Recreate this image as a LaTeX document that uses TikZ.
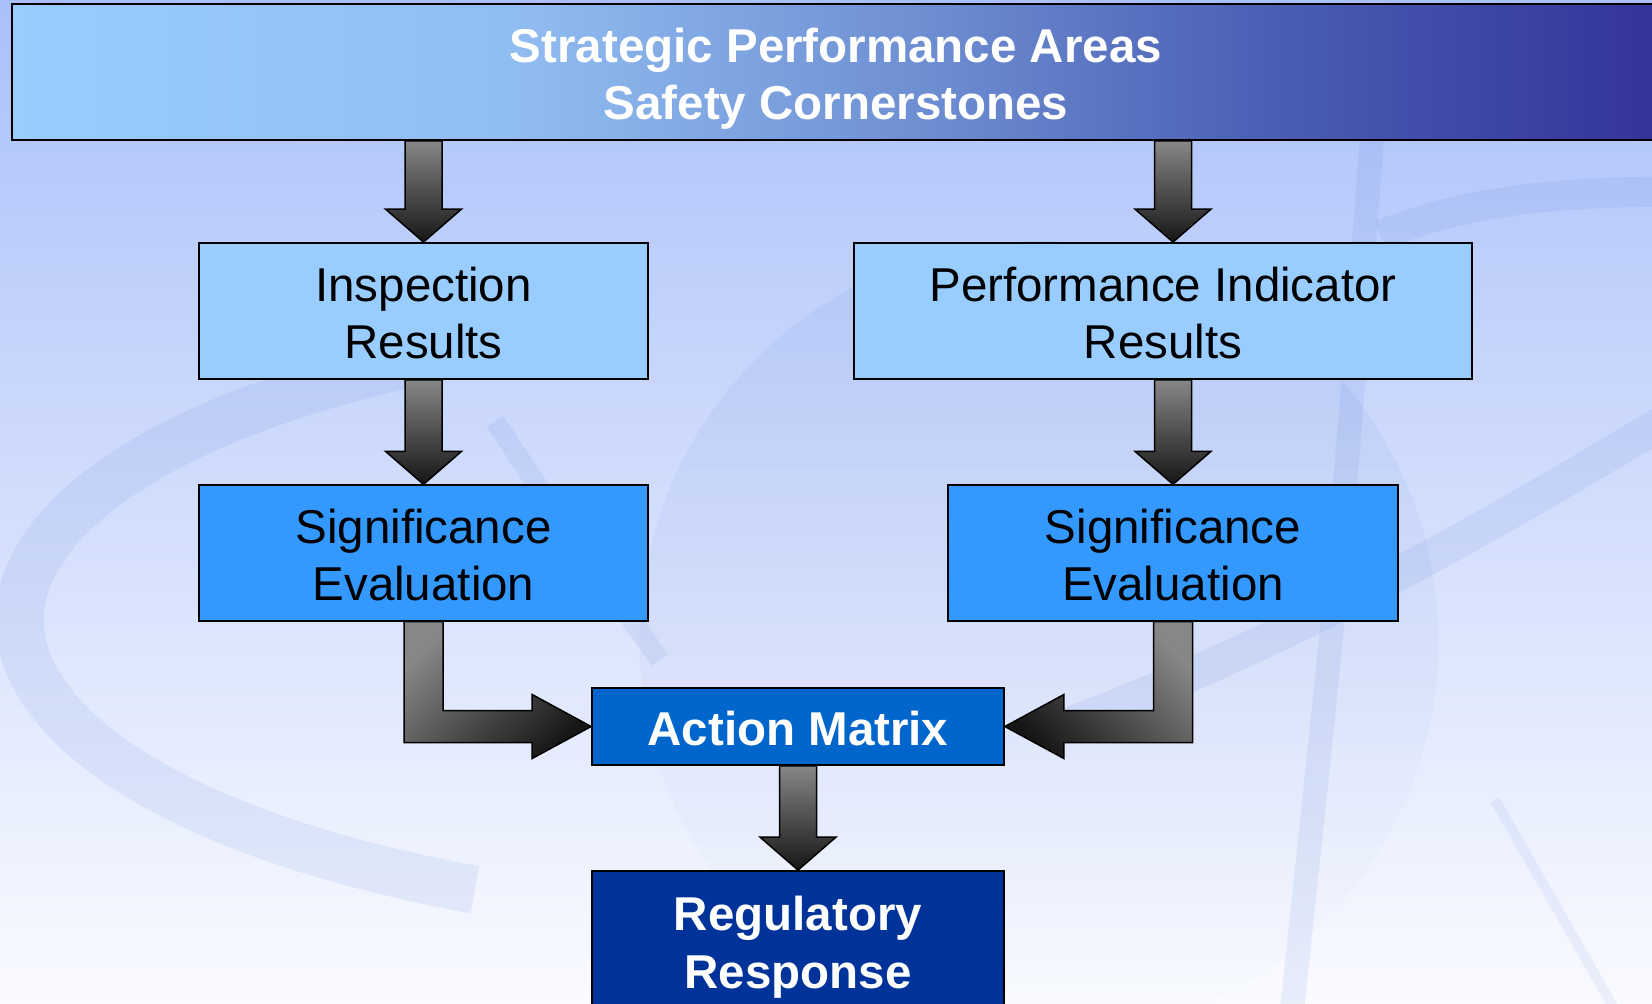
\documentclass[tikz,border=0pt]{standalone}
\usepackage{fontspec}
\setmainfont{Liberation Sans}
\usetikzlibrary{calc,fadings}

\definecolor{bgtop}{RGB}{170,192,250}
\definecolor{bgmid}{RGB}{202,216,250}
\definecolor{bgbot}{RGB}{250,251,255}
\definecolor{orbitc}{RGB}{90,125,210}
\definecolor{ban0}{RGB}{153,204,255}
\definecolor{ban1}{RGB}{145,190,242}
\definecolor{ban2}{RGB}{112,145,212}
\definecolor{ban3}{RGB}{75,95,180}
\definecolor{ban4}{RGB}{51,51,153}
\definecolor{lightbox}{RGB}{153,204,255}
\definecolor{midbox}{RGB}{51,153,255}
\definecolor{actbox}{RGB}{0,102,204}
\definecolor{regbox}{RGB}{0,51,153}
\definecolor{arrtop}{RGB}{135,135,135}
\definecolor{arrbot}{RGB}{22,22,22}

\pgfdeclarehorizontalshading{banshade}{100bp}{color(0bp)=(ban0); color(25bp)=(ban0); color(40bp)=(ban1); color(52bp)=(ban2); color(63bp)=(ban3); color(75bp)=(ban4); color(100bp)=(ban4)}

\newcommand{\tstr}{\rule{0pt}{47.6pt}}
\newcommand{\bstr}{\rule[-10pt]{0pt}{10pt}}

\newcommand{\downarr}[2]{%
  \path[arrowfill] let \p1=(#1), \p2=(#2) in
   (\x2-18.5pt,\y1) -- (\x2+18.5pt,\y1) -- (\x2+18.5pt,\y2+33pt) -- (\x2+38pt,\y2+33pt)
   -- (\x2,\y2) -- (\x2-38pt,\y2+33pt) -- (\x2-18.5pt,\y2+33pt) -- cycle;}

\newcommand{\bentarr}[4]{%
  \path[arrowfill, shading angle=#4] let \p1=(#1), \p2=(#2) in
   ({\x1-(#3)*19.5pt},\y1) -- ({\x1+(#3)*19.5pt},\y1) -- ({\x1+(#3)*19.5pt},\y2+16pt)
   -- ({\x2-(#3)*59pt},\y2+16pt) -- ({\x2-(#3)*59pt},\y2+32pt) -- (\x2,\y2)
   -- ({\x2-(#3)*59pt},\y2-32pt) -- ({\x2-(#3)*59pt},\y2-16pt)
   -- ({\x1-(#3)*19.5pt},\y2-16pt) -- cycle;}

\begin{document}
\begin{tikzpicture}[x=1pt,y=-1pt,
  box/.style={draw=black, line width=1.8pt, inner sep=0pt, align=center,
    font=\fontsize{47.5}{57.6}\selectfont},
  boldbox/.style={box, text=white, font=\fontsize{47.5}{57.6}\selectfont\bfseries},
  arrowfill/.style={draw=black, line width=1.5pt, line join=miter,
    top color=arrtop, bottom color=arrbot},
  orbit/.style={draw=orbitc, draw opacity=0.11, line cap=butt},
]
\useasboundingbox (0,0) rectangle (1652,1004);
% background
\fill[top color=bgtop, middle color=bgmid, bottom color=bgbot] (0,0) rectangle (1652,1004);
\fill[orbitc, fill opacity=0.10, path fading=south] (1040,640) circle (400);
\draw[orbit, line width=48pt] (830,620) ++(250:810 and 300)
  arc[start angle=250, end angle=116, x radius=810, y radius=300];
\draw[orbit, line width=30pt] (1380,235) .. controls (1470,200) and (1560,190) .. (1700,192);
\draw[orbit, line width=34pt] (1040,735) .. controls (1300,640) and (1500,520) .. (1700,400);
\draw[orbit, line width=20pt] (495,421) .. controls (560,520) .. (660,660);
\draw[orbit, line width=24pt] (1372,137) .. controls (1340,560) .. (1292,1010);
\draw[orbit, line width=10pt, draw opacity=0.09] (1495,800) -- (1615,1010);

% boxes
\node[boldbox, minimum width=1648pt, minimum height=136pt, shading=banshade]
  (ban) at (836,72) {\tstr Strategic Performance Areas\\Safety Cornerstones\bstr};
\node[box, fill=lightbox, minimum width=449pt, minimum height=136pt]
  (ins) at (423.5,311) {\tstr Inspection\\Results\bstr};
\node[box, fill=lightbox, minimum width=617.5pt, minimum height=136pt]
  (pi) at (1163,311) {\tstr Performance Indicator\\Results\bstr};
\node[box, fill=midbox, minimum width=449pt, minimum height=135.5pt]
  (sigL) at (423.5,553) {\tstr Significance\\Evaluation\bstr};
\node[box, fill=midbox, minimum width=450pt, minimum height=135.5pt]
  (sigR) at (1173,553) {\tstr Significance\\Evaluation\bstr};
\node[boldbox, fill=actbox, minimum width=412pt, minimum height=77pt]
  (act) at (798,726.5) {\tstr Action Matrix\bstr};
\node[boldbox, fill=regbox, minimum width=412pt, minimum height=139pt]
  (reg) at (798,940.5) {\tstr Regulatory\\Response\bstr};

% arrows
\downarr{ins.north |- ban.south}{ins.north}
\downarr{sigR.north |- ban.south}{sigR.north |- pi.north}
\downarr{ins.south}{sigL.north}
\downarr{sigR.north |- pi.south}{sigR.north}
\downarr{act.south}{reg.north}
\bentarr{sigL.south}{act.west}{1}{45}
\bentarr{sigR.south}{act.east}{-1}{-45}
\end{tikzpicture}
\end{document}
